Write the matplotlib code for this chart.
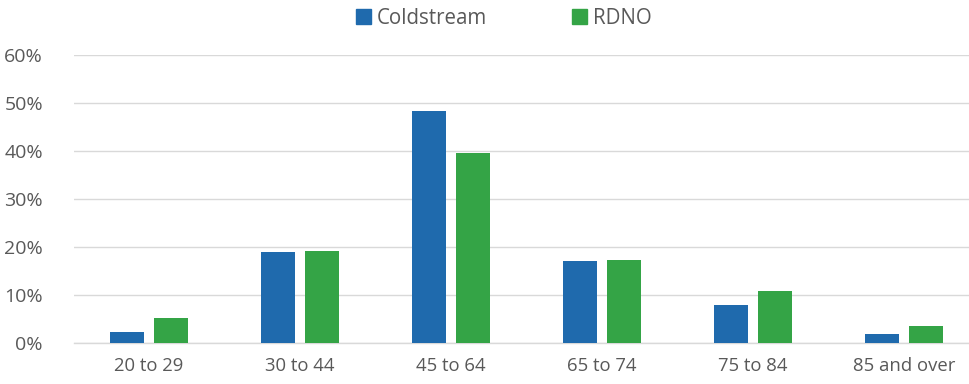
import matplotlib
matplotlib.use("Agg")
import matplotlib.pyplot as plt
import numpy as np
from matplotlib.ticker import PercentFormatter
from matplotlib.patches import Patch

categories = ["20 to 29", "30 to 44", "45 to 64", "65 to 74", "75 to 84", "85 and over"]
coldstream = [2.4, 19.1, 48.3, 17.2, 8.0, 1.9]
rdno = [5.2, 19.3, 39.7, 17.4, 10.9, 3.5]

plt.rcParams['font.family'] = ['Open Sans', 'DejaVu Sans']
text_color = "#595959"
blue = "#1F6AAD"
green = "#34A446"

fig = plt.figure(figsize=(9.69, 3.84), dpi=100)
ax = fig.add_axes([73.5/969, 40.7/384, 906/969, 288.3/384])

x = np.arange(len(categories))
w = 0.225
ax.bar(x - 0.143, coldstream, width=w, color=blue, zorder=3)
ax.bar(x + 0.143, rdno, width=w, color=green, zorder=3)

ax.set_xlim(-0.5, len(categories) - 0.5)
ax.set_ylim(0, 60)
ax.set_yticks(np.arange(0, 61, 10))
ax.yaxis.set_major_formatter(PercentFormatter(decimals=0))
ax.set_xticks(x)
ax.set_xticklabels(categories)
ax.grid(axis='y', color="#D9D9D9", linewidth=1.0, zorder=0)
for s in ["top", "right", "left"]:
    ax.spines[s].set_visible(False)
ax.spines["bottom"].set_color("#D9D9D9")
ax.spines["bottom"].set_linewidth(1.0)
ax.tick_params(axis='both', length=0, colors=text_color)
ax.tick_params(axis='x', pad=10, labelsize=13.3)
ax.tick_params(axis='y', pad=22, labelsize=14)

handles = [Patch(color=blue, label="Coldstream"), Patch(color=green, label="RDNO")]
leg = fig.legend(handles=handles, loc="center", bbox_to_anchor=(504/969, 1 - 18/384),
                 ncol=2, frameon=False, fontsize=14.8, handlelength=0.7, handleheight=0.7,
                 handletextpad=0.3, columnspacing=4.15, labelcolor=text_color)

fig.savefig("out.png", dpi=100)
